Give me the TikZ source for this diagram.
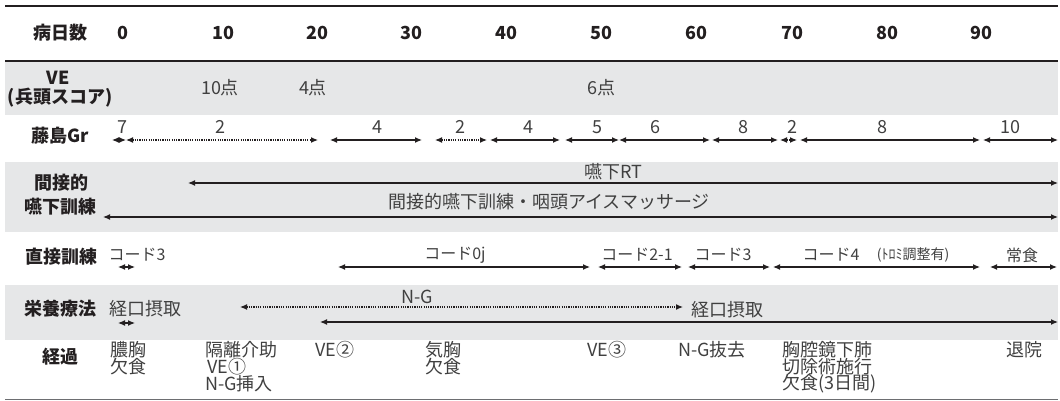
\documentclass[tikz,border=0pt]{standalone}
\usepackage{fontspec}
\setmainfont{Noto Sans CJK JP}
\usetikzlibrary{arrows.meta}
\definecolor{band}{HTML}{E6E7E8}
\definecolor{ink}{HTML}{231F20}
\definecolor{dat}{HTML}{404040}
\definecolor{rule}{HTML}{6D6E71}
\begin{document}
\begin{tikzpicture}[x=1pt,y=-1pt,
  lab/.style={font=\fontsize{18}{18}\selectfont\bfseries, text=ink, inner sep=0},
  hdr/.style={font=\fontsize{18}{18}\selectfont\bfseries, text=ink, inner sep=0},
  dat/.style={font=\fontsize{18}{17}\selectfont, text=dat, inner sep=0},
  sml/.style={font=\fontsize{16}{16}\selectfont, text=dat, inner sep=0},
  tiny/.style={font=\fontsize{14}{14}\selectfont, text=dat, inner sep=0},
  ev/.style={dat, anchor=west},
  arr/.style={{Latex[length=7pt,width=6pt]}-{Latex[length=7pt,width=6pt]}, line width=1.2pt, draw=ink},
  darr/.style={arr, dash pattern=on 1.2pt off 1.1pt, line width=1.2pt}]
\useasboundingbox (0,0) rectangle (1060,401);
% bands and rules
\fill[band] (5,62) rectangle (1058,115);
\fill[band] (5,162) rectangle (1058,232);
\fill[band] (5,285) rectangle (1058,340);
\draw[line width=2pt, draw=ink] (5,6) -- (1058,6);
\draw[line width=2pt, draw=ink] (5,61) -- (1058,61);
\draw[line width=0.8pt, draw=rule] (5,399.5) -- (1058,399.5);
% header
\node[lab] (h) at (60,33) {病日数};
\node[hdr] (d0) at (123,33) {0};
\node[hdr] (d10) at (223,33) {10};
\node[hdr] (d20) at (317,33) {20};
\node[hdr] (d30) at (411,33) {30};
\node[hdr] (d40) at (506,33) {40};
\node[hdr] (d50) at (601,33) {50};
\node[hdr] (d60) at (696,33) {60};
\node[hdr] (d70) at (792,33) {70};
\node[hdr] (d80) at (887,33) {80};
\node[hdr] (d90) at (981,33) {90};
% VE row
\node[lab] (ve1) at (58,78) {VE};
\node[lab] (ve2) at (60,98) {(兵頭スコア)};
\node[dat] (s1) at (220,88) {10点};
\node[dat] (s2) at (313,88) {4点};
\node[dat] (s3) at (601,88) {6点};
% Fujishima Gr row
\node[lab] (fg) at (60,136) {藤島Gr};
\foreach \n/\x in {f0/112,f1/126,f2/318,f3/330,f4/422,f5/435,f6/487,f7/490,f8/560,f9/565,f10/619,f11/710,f12/712,f13/778,f14/780,f15/797,f16/800,f17/980,f18/983,f19/1058}
  \coordinate (\n) at (\x,140);
\draw[arr] (f0) -- (f1);
\draw[darr] (f1) -- (f2);
\draw[arr] (f3) -- (f4);
\draw[darr] (f5) -- (f6);
\draw[arr] (f7) -- (f8);
\draw[arr] (f9) -- (f10);
\draw[arr] (f10) -- (f11);
\draw[arr] (f12) -- (f13);
\draw[darr] (f14) -- (f15);
\draw[arr] (f16) -- (f17);
\draw[arr] (f18) -- (f19);
\node[dat] (g1) at (122,127) {7};
\node[dat] (g2) at (220,127) {2};
\node[dat] (g3) at (377,127) {4};
\node[dat] (g4) at (460,127) {2};
\node[dat] (g5) at (528,127) {4};
\node[dat] (g6) at (597,127) {5};
\node[dat] (g7) at (655,127) {6};
\node[dat] (g8) at (743,127) {8};
\node[dat] (g9) at (792,127) {2};
\node[dat] (g10) at (882,127) {8};
\node[dat] (g11) at (1010,127) {10};
% indirect training
\node[lab] (it1) at (61,183) {間接的};
\node[lab] (it2) at (60,207) {嚥下訓練};
\coordinate (rta) at (188,183);
\coordinate (rtb) at (1058,183);
\draw[arr] (rta) -- (rtb);
\node[dat] (rt) at (613,172) {嚥下RT};
\coordinate (ima) at (103,217);
\coordinate (imb) at (1058,217);
\draw[arr] (ima) -- (imb);
\node[dat] (im) at (549,202) {間接的嚥下訓練・咽頭アイスマッサージ};
% direct training
\node[lab] (dt) at (61,257) {直接訓練};
\foreach \n/\x in {c0/118,c1/135,c2/338,c3/590,c4/598,c5/682,c6/688,c7/770,c8/773,c9/980,c10/990,c11/1057}
  \coordinate (\n) at (\x,267);
\draw[arr] (c0) -- (c1);
\draw[arr] (c2) -- (c3);
\draw[arr] (c4) -- (c5);
\draw[arr] (c6) -- (c7);
\draw[arr] (c8) -- (c9);
\draw[arr] (c10) -- (c11);
\node[sml] (k1) at (137,255) {コード3};
\node[sml] (k2) at (455,255) {コード0j};
\node[sml] (k3) at (637,255) {コード2-1};
\node[sml] (k4) at (723,255) {コード3};
\node[sml] (k5) at (831,255) {コード4};
\node[tiny] (k6) at (913,255) {(ﾄﾛﾐ調整有)};
\node[sml] (k7) at (1022,255) {常食};
% nutrition
\node[lab] (nt) at (60,309) {栄養療法};
\node[dat] (n1) at (145,309) {経口摂取};
\coordinate (na) at (118,323);
\coordinate (nb) at (135,323);
\draw[arr] (na) -- (nb);
\coordinate (ngA) at (240,307);
\coordinate (ngB) at (683,307);
\draw[darr] (ngA) -- (ngB);
\node[dat] (ng) at (417,297) {N-G};
\node[dat] (n2) at (727,310) {経口摂取};
\coordinate (oa) at (320,322);
\coordinate (ob) at (1058,322);
\draw[arr] (oa) -- (ob);
% course
\node[lab] (cs) at (60,357) {経過};
\node[ev] (e1a) at (110,350) {膿胸};
\node[ev] (e1b) at (110,367) {欠食};
\node[ev] (e2a) at (205,350) {隔離介助};
\node[ev] (e2b) at (207,367) {VE①};
\node[ev] (e2c) at (205,384) {N-G挿入};
\node[ev] (e3) at (315,350) {VE②};
\node[ev] (e4a) at (425,350) {気胸};
\node[ev] (e4b) at (425,367) {欠食};
\node[ev] (e5) at (587,350) {VE③};
\node[ev] (e6) at (678,350) {N-G抜去};
\node[ev] (e7a) at (782,350) {胸腔鏡下肺};
\node[ev] (e7b) at (782,367) {切除術施行};
\node[ev] (e7c) at (782,384) {欠食(3日間)};
\node[ev] (e8) at (1006,350) {退院};
\end{tikzpicture}
\end{document}
